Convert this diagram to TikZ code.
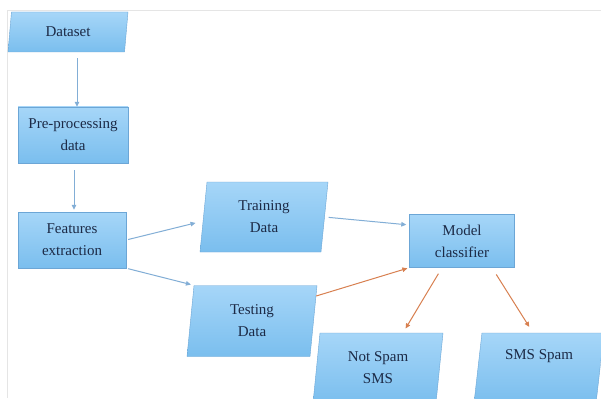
\documentclass[tikz,border=0pt]{standalone}
\usepackage{fontspec}
\setmainfont{Liberation Serif}
\usepackage{tikz}
\usetikzlibrary{positioning, arrows.meta, calc, shapes.geometric}
\usepackage{xcolor}

\definecolor{boxTop}{RGB}{166,214,248}
\definecolor{boxBot}{RGB}{122,190,238}
\definecolor{boxLine}{RGB}{108,166,214}
\definecolor{txtNavy}{RGB}{28,42,70}
\definecolor{flowBlue}{RGB}{130,174,214}
\definecolor{flowOrange}{RGB}{216,128,80}

\begin{document}
\begin{tikzpicture}[
    x=1pt, y=-1pt,
    % boxes of the flow chart
    block/.style={rectangle, draw=boxLine, top color=boxTop, bottom color=boxBot, align=center,
                  text=txtNavy, font=\fontsize{15}{22}\selectfont, inner sep=2pt},
    data/.style={block, trapezium, trapezium left angle=79, trapezium right angle=101,
                 trapezium stretches body, minimum height=70pt, minimum width=130pt},
    proc/.style={block, minimum width=108pt, minimum height=56pt},
    % connectors
    arr/.style={-{Triangle[length=5pt, width=4.5pt]}, line width=1pt, color=flowBlue},
    out_arr/.style={-{Triangle[length=5pt, width=4.5pt]}, line width=1pt, color=flowOrange},
]
\clip (0,0) rectangle (601,398);
\useasboundingbox (0,0) rectangle (601,398);
\fill[white] (0,0) rectangle (601,398);

% thin frame at the top and the left
\draw[gray!20] (7,398) -- (7,10) -- (601,10);

% ==================== 1. left column ====================
\node[data, minimum height=40pt, minimum width=120pt, trapezium left angle=76, trapezium right angle=104] (dataset) at (68,32) {Dataset};
\node[proc, minimum width=110pt] (prep) at (73,135) {Pre-processing\\data};
\node[proc] (feat) at (72,240) {Features\\extraction};

\draw[arr, shorten <=6pt] ([xshift=4pt]prep.north |- dataset.south) -- ([xshift=4pt]prep.north);
\draw[arr, shorten <=7pt, shorten >=2pt] ([xshift=2pt]feat.north |- prep.south) -- ([xshift=2pt]feat.north);

% ==================== 2. train / test split ====================
\node[data, minimum width=128pt] (train) at (264,217) {Training\\Data};
\node[data, minimum height=71pt] (test) at (252,321) {Testing\\Data};

\draw[arr, shorten <=2pt, shorten >=8pt] (feat.east) -- ([yshift=-4pt]train.west);
\draw[arr, shorten <=2pt, shorten >=3pt] (feat.south east) -- (test.top left corner);

% ==================== 3. classifier ====================
\node[proc, minimum width=105pt, minimum height=53pt] (model) at (462,241) {Model\\classifier};

\draw[arr, shorten <=4pt, shorten >=3pt] (train.east) -- ([yshift=16pt]model.west);
\draw[out_arr, shorten >=2pt] ($(test.top right corner)!0.15!(test.bottom right corner)$) -- (model.south west);

% ==================== 4. outputs ====================
\node[data] (notspam) at (378,368) {Not Spam\\SMS};
\node[data, text depth=27pt] (smsspam) at (539,368) {SMS Spam};

\draw[out_arr, shorten <=7pt, shorten >=5pt] ([xshift=-20pt]model.south) -- ([xshift=25pt]notspam.north);
\draw[out_arr, shorten <=8pt, shorten >=7pt] ([xshift=30pt]model.south) -- ([xshift=-6pt]smsspam.north);

\end{tikzpicture}
\end{document}
